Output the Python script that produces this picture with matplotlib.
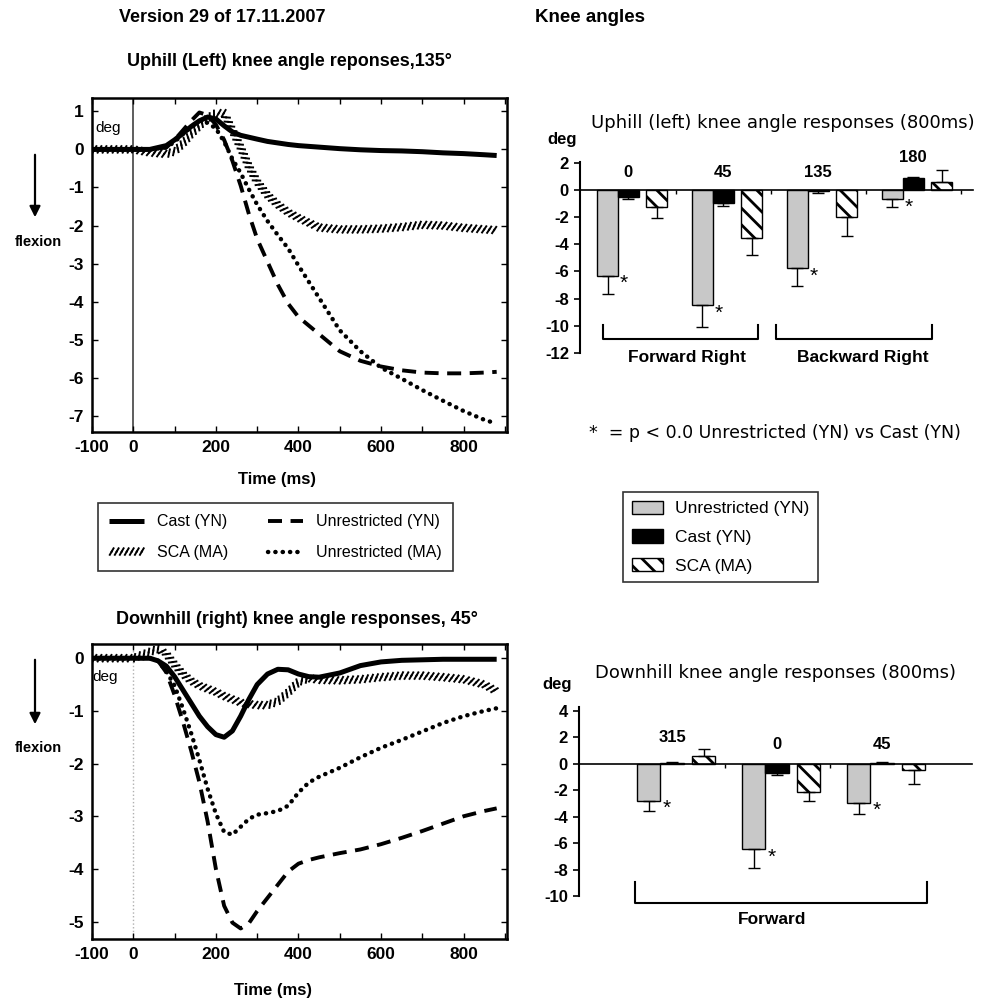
import matplotlib
matplotlib.use("Agg")
import matplotlib.pyplot as plt
import matplotlib.patheffects as pe
import numpy as np

plt.rcParams['font.family'] = ['Liberation Sans', 'DejaVu Sans']
plt.rcParams['axes.unicode_minus'] = False
plt.rcParams['hatch.linewidth'] = 2.0

# ---- uphill (left) knee angle, 135 deg perturbation ----
t_up = [-100, 0, 40, 80, 100, 120, 140, 160, 180, 200, 220, 240, 260, 280, 300,
        325, 350, 375, 400, 450, 500, 550, 600, 650, 700, 750, 800, 850, 880]
up_cast = [0, 0, 0, 0.1, 0.25, 0.42, 0.6, 0.75, 0.85, 0.8, 0.62, 0.46, 0.37, 0.32, 0.27,
           0.21, 0.17, 0.13, 0.1, 0.06, 0.02, -0.01, -0.03, -0.04, -0.06, -0.09, -0.11, -0.14, -0.16]
up_unr_yn = [0, 0, 0, 0.05, 0.25, 0.5, 0.75, 0.97, 0.9, 0.65, 0.25, -0.3, -0.95, -1.7, -2.35,
             -2.95, -3.55, -4.05, -4.4, -4.85, -5.3, -5.55, -5.7, -5.8, -5.86, -5.88, -5.88, -5.86, -5.84]
up_sca = [0, 0, -0.08, -0.12, -0.05, 0.15, 0.4, 0.62, 0.82, 0.95, 0.95, 0.5, 0.05, -0.45, -0.85,
          -1.2, -1.45, -1.65, -1.8, -2.05, -2.1, -2.1, -2.08, -2.04, -1.98, -2.0, -2.06, -2.1, -2.12]
up_unr_ma = [0, 0, 0, 0.05, 0.2, 0.4, 0.6, 0.75, 0.7, 0.55, 0.2, -0.25, -0.62, -1.05, -1.45,
             -1.88, -2.25, -2.6, -3.05, -3.9, -4.75, -5.3, -5.73, -6.02, -6.32, -6.6, -6.87, -7.1, -7.2]

# ---- downhill (right) knee angle, 45 deg perturbation ----
t_dn = [-100, 0, 40, 60, 80, 100, 120, 140, 160, 180, 200, 220, 240, 260, 280, 300,
        325, 350, 375, 400, 425, 450, 500, 550, 600, 650, 700, 750, 800, 850, 880]
dn_cast = [0, 0, 0, -0.05, -0.15, -0.35, -0.6, -0.85, -1.1, -1.3, -1.45, -1.5, -1.38, -1.1, -0.78, -0.5,
           -0.3, -0.21, -0.22, -0.3, -0.35, -0.36, -0.28, -0.14, -0.07, -0.04, -0.03, -0.02, -0.02, -0.02, -0.02]
dn_unr_yn = [0, 0, 0, -0.05, -0.27, -0.7, -1.2, -1.75, -2.35, -3.1, -4.0, -4.7, -5.02, -5.13, -5.03, -4.8,
             -4.55, -4.3, -4.05, -3.9, -3.83, -3.78, -3.7, -3.63, -3.53, -3.41, -3.28, -3.14, -3.0, -2.9, -2.85]
dn_sca = [0, 0, 0.12, 0.18, 0.08, -0.12, -0.3, -0.43, -0.52, -0.58, -0.64, -0.72, -0.78, -0.84, -0.87, -0.89,
          -0.89, -0.82, -0.65, -0.45, -0.38, -0.41, -0.42, -0.4, -0.36, -0.33, -0.33, -0.36, -0.4, -0.5, -0.63]
dn_unr_ma = [0, 0, 0, -0.05, -0.25, -0.52, -0.95, -1.42, -1.93, -2.48, -2.95, -3.3, -3.35, -3.2, -3.05, -2.97,
             -2.94, -2.9, -2.8, -2.55, -2.36, -2.25, -2.08, -1.88, -1.7, -1.55, -1.39, -1.23, -1.1, -1.0, -0.95]

# ---- bar charts, mean response at 800 ms ----
bar_series = ['Unrestricted (YN)', 'Cast (YN)', 'SCA (MA)']
up_dirs = ['0', '45', '135', '180']
up_means = [[-6.3, -8.45, -5.75, -0.65],   # Unrestricted (YN)
            [-0.5, -0.95, -0.1, 0.88],      # Cast (YN)
            [-1.25, -3.55, -2.0, 0.6]]      # SCA (MA)
up_errs = [[1.35, 1.65, 1.3, 0.6],
           [0.2, 0.25, 0.1, 0.1],
           [0.85, 1.25, 1.4, 0.85]]
dn_dirs = ['315', '0', '45']
dn_means = [[-2.8, -6.45, -2.95],
            [0.1, -0.7, 0.1],
            [0.6, -2.1, -0.5]]
dn_errs = [[0.75, 1.45, 0.85],
           [0.05, 0.15, 0.05],
           [0.5, 0.7, 1.0]]

W, H = 988, 1005
fig = plt.figure(figsize=(W / 100, H / 100), dpi=100)


def box(l, t, r, b):
    return [l / W, 1 - b / H, (r - l) / W, (b - t) / H]


def fx(x):
    return x / W


def fy(y):
    return 1 - y / H


# slanted strokes centred on the path, like the hatched SCA trace
hatch_line = [pe.withTickedStroke(spacing=3.6, angle=60, length=0.75, linewidth=1.4),
              pe.withTickedStroke(spacing=3.6, angle=240, length=0.75, linewidth=1.4)]


def line_panel(ax, t, cast, unr_yn, sca, unr_ma, ylim, yticks, zero_dotted):
    ax.plot(t, cast, color='k', lw=3.6, solid_capstyle='butt', label='Cast (YN)')
    ax.plot(t, sca, color='k', lw=0, label='SCA (MA)', path_effects=hatch_line)
    ax.plot(t, unr_yn, color='k', lw=2.8, ls=(0, (3.6, 2.2)), label='Unrestricted (YN)')
    ax.plot(t, unr_ma, color='k', lw=3.2, ls=(0, (0.05, 1.6)), dash_capstyle='round',
            label='Unrestricted (MA)')
    if zero_dotted:
        ax.axvline(0, color='#b0b0b0', lw=1.0, ls=':', zorder=0)
    else:
        ax.axvline(0, color='#505050', lw=1.3, zorder=0)
    ax.set_xlim(-100, 905)
    ax.set_ylim(*ylim)
    xt = list(range(-100, 901, 100))
    ax.set_xticks(xt)
    ax.set_xticklabels([str(v) if v in (-100, 0, 200, 400, 600, 800) else '' for v in xt],
                       fontweight='bold', fontsize=12.5)
    ax.set_yticks(yticks)
    ax.set_yticklabels([str(v) for v in yticks], fontweight='bold', fontsize=12.5)
    ax.tick_params(direction='in', top=True, right=True, length=4, width=1, pad=6)
    for s in ax.spines.values():
        s.set_linewidth(1.8)
    ax.set_xlabel('Time (ms)', fontsize=12, fontweight='bold')


# ---- top-left: uphill time series ----
ax_up = fig.add_axes(box(92, 98, 507, 432))
line_panel(ax_up, t_up, up_cast, up_unr_yn, up_sca, up_unr_ma, (-7.42, 1.35), list(range(-7, 2)), False)
ax_up.xaxis.set_label_coords(0.445, -0.12)
ax_up.text(0.008, 0.91, 'deg', transform=ax_up.transAxes, fontsize=11, ha='left', va='center')

# ---- bottom-left: downhill time series ----
ax_dn = fig.add_axes(box(92, 644, 507, 939))
line_panel(ax_dn, t_dn, dn_cast, dn_unr_yn, dn_sca, dn_unr_ma, (-5.33, 0.27), list(range(-5, 1)), True)
ax_dn.xaxis.set_label_coords(0.435, -0.15)
ax_dn.text(0.0, 0.888, 'deg', transform=ax_dn.transAxes, fontsize=11, ha='left', va='center')

# flexion arrows
for y0, y1, ytxt in [(152, 220, 242), (657, 727, 748)]:
    fig.patches.append(matplotlib.patches.FancyArrowPatch(
        (fx(35), fy(y0)), (fx(35), fy(y1)), transform=fig.transFigure,
        arrowstyle='-|>', mutation_scale=16, color='k', lw=1.6))
    fig.text(fx(38), fy(ytxt), 'flexion', ha='center', va='center', fontsize=10.5, fontweight='bold')

# line legend
h, l = ax_up.get_legend_handles_labels()
leg = fig.legend(h, l, loc='upper left',
                 bbox_to_anchor=(fx(98), fy(503)), ncol=2, frameon=True, fancybox=False,
                 edgecolor='k', fontsize=11.5, handlelength=2.2, columnspacing=2.5,
                 borderaxespad=0, borderpad=0.7, labelspacing=1.0)
leg.get_frame().set_linewidth(1.2)

# ---- bar panels ----
offsets = [-0.22, 0.0, 0.30]
bw = 0.22
bar_style = [dict(color='#c8c8c8', edgecolor='k'),
             dict(color='k', edgecolor='k'),
             dict(color='white', edgecolor='k', hatch='\\\\')]


def bar_panel(ax, dirs, means, errs, ylim, yticks, xlim, label_y, brackets):
    x = np.arange(len(dirs))
    bars = []
    for k in range(3):
        m = np.array(means[k])
        e = np.array(errs[k])
        b = ax.bar(x + offsets[k], m, bw, linewidth=1, label=bar_series[k], **bar_style[k])
        bars.append(b)
        lo = np.where(m < 0, e, 0)
        hi = np.where(m >= 0, e, 0)
        ax.errorbar(x + offsets[k], m, yerr=[lo, hi], fmt='none', ecolor='k', elinewidth=1,
                    capsize=4, capthick=1)
    # significance stars next to unrestricted bars
    for i, m in enumerate(means[0]):
        ax.text(x[i] + offsets[0] + 0.17, m - 0.6, '*', fontsize=15, ha='center', va='center')
    for i, d in enumerate(dirs):
        ax.text(x[i], label_y[i], d, fontsize=12, fontweight='bold', ha='center', va='center')
    for a, b2, txt, ly, lt, tx, ty in brackets:
        ax.plot([a, a, b2, b2], [lt, ly, ly, lt], color='k', lw=1.5, clip_on=False)
        ax.text(tx, ty, txt, fontsize=12.5, fontweight='bold', ha='center', va='center')
    ax.set_xlim(*xlim)
    ax.set_ylim(*ylim)
    ax.set_xticks(np.arange(len(dirs)) + 0.5)
    ax.set_xticklabels([])
    ax.tick_params(axis='x', direction='out', length=3, width=1)
    ax.set_yticks(yticks)
    ax.set_yticklabels([str(v) for v in yticks], fontweight='bold', fontsize=12)
    ax.tick_params(axis='y', direction='out', length=4, width=1.2, pad=4)
    ax.spines['top'].set_visible(False)
    ax.spines['right'].set_visible(False)
    ax.spines['bottom'].set_position(('data', 0))
    ax.spines['bottom'].set_linewidth(1.2)
    ax.spines['left'].set_linewidth(1.5)
    return bars


ax_bu = fig.add_axes(box(580, 162, 973, 353))
bars = bar_panel(ax_bu, up_dirs, up_means, up_errs, (-12, 2.05), list(range(-12, 3, 2)), (-0.51, 3.63),
                 [1.25, 1.25, 1.25, 2.4],
                 [(-0.27, 1.37, 'Forward Right', -10.96, -9.93, 0.62, -12.35),
                  (1.55, 3.2, 'Backward Right', -10.96, -9.93, 2.47, -12.35)])
fig.text(fx(783), fy(123), 'Uphill (left) knee angle responses (800ms)', ha='center', va='center',
         fontsize=13, family='DejaVu Sans')
fig.text(fx(562), fy(139), 'deg', ha='center', va='center', fontsize=12, fontweight='bold')

ax_bd = fig.add_axes(box(579, 707, 972, 896))
bar_panel(ax_bd, dn_dirs, dn_means, dn_errs, (-10, 4.3), list(range(-10, 5, 2)), (-0.886, 2.857),
          [1.97, 1.5, 1.5],
          [(-0.35, 2.43, 'Forward', -10.53, -8.94, 0.95, -11.75)])
ax_bd.set_xticks([0.5, 1.5])
fig.text(fx(775), fy(673), 'Downhill knee angle responses (800ms)', ha='center', va='center',
         fontsize=13, family='DejaVu Sans')
fig.text(fx(557), fy(685), 'deg', ha='center', va='center', fontsize=12, fontweight='bold')

fig.text(fx(775), fy(433), '*  = p < 0.0 Unrestricted (YN) vs Cast (YN)', ha='center', va='center',
         fontsize=12.5, family='DejaVu Sans')

bleg = fig.legend(bars, bar_series, loc='upper left', bbox_to_anchor=(fx(623), fy(492)), ncol=1,
                  frameon=True, fancybox=False, edgecolor='k', fontsize=12.5, handlelength=1.8,
                  handleheight=0.8, borderaxespad=0, borderpad=0.5, labelspacing=0.75,
                  handletextpad=0.7)
bleg.get_frame().set_linewidth(1.2)

# ---- headings ----
fig.text(fx(222), fy(18), 'Version 29 of 17.11.2007', ha='center', va='center', fontsize=13, fontweight='bold')
fig.text(fx(590), fy(18), 'Knee angles', ha='center', va='center', fontsize=13.5, fontweight='bold')
fig.text(fx(289), fy(62), 'Uphill (Left) knee angle reponses,135°', ha='center', va='center',
         fontsize=13, fontweight='bold')
fig.text(fx(297), fy(619), 'Downhill (right) knee angle responses, 45°', ha='center', va='center',
         fontsize=13, fontweight='bold')

fig.savefig('out.png', dpi=100)
